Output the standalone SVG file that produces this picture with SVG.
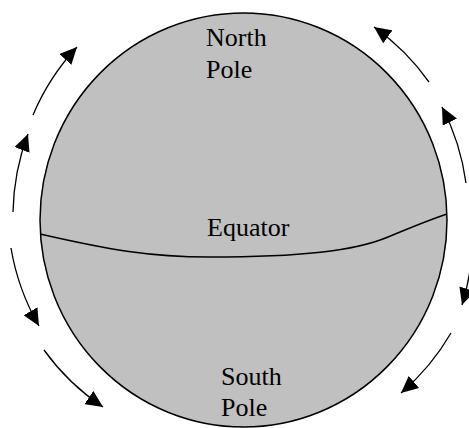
<svg xmlns="http://www.w3.org/2000/svg" width="469" height="428" viewBox="0 0 469 428">
<style>
  .globe { fill: #c0c0c0; stroke: #000; stroke-width: 1.5; }
  .eq { fill: none; stroke: #000; stroke-width: 1.5; }
  .arc { fill: none; stroke: #000; stroke-width: 1.3; marker-end: url(#ah); }
  .lbl { font-family: "Liberation Serif", "Times New Roman", serif; font-size: 26px; fill: #000; }
</style>
<defs>
  <marker id="ah" viewBox="0 0 17 16" markerWidth="17" markerHeight="16" refX="17" refY="8" orient="auto" markerUnits="userSpaceOnUse">
    <path d="M0,0 L17,8 L0,16 z" fill="#000"/>
  </marker>
</defs>
<g id="globe">
  <ellipse class="globe" cx="243.5" cy="220" rx="203.5" ry="207"/>
  <text class="lbl" x="206" y="46">North</text>
  <text class="lbl" x="206" y="78">Pole</text>
</g>
<g id="equator">
  <path class="eq" d="M40,234 C110,250 150,257 210,257 C300,257 355,251 388,237 C412,227 432,219 447,214"/>
  <text class="lbl" x="207" y="236">Equator</text>
</g>
<g id="south">
  <text class="lbl" x="221" y="385">South</text>
  <text class="lbl" x="221" y="416">Pole</text>
</g>
<g id="connectors">
  <path class="arc" d="M33,115 A232,232 0 0 1 77,47"/>
  <path class="arc" d="M13,212 A232,232 0 0 1 28,134"/>
  <path class="arc" d="M11,248 A232,232 0 0 0 39,326"/>
  <path class="arc" d="M44,350 A232,232 0 0 0 103,407"/>
  <path class="arc" d="M429,82 A232,232 0 0 0 374,27"/>
  <path class="arc" d="M466,183 A232,232 0 0 0 442,107"/>
  <path class="arc" d="M472,252 A232,232 0 0 1 462,305"/>
  <path class="arc" d="M451,333 A232,232 0 0 1 401,393"/>
</g>
</svg>
